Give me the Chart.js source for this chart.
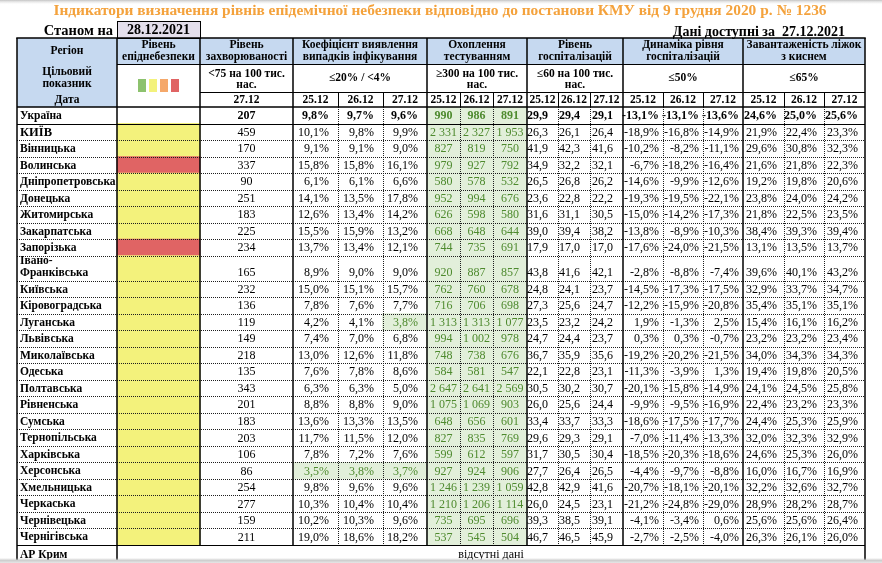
<!DOCTYPE html>
<html lang="uk">
<head>
<meta charset="utf-8">
<title>Індикатори епіднебезпеки 28.12.2021</title>
<script src="https://cdn.jsdelivr.net/npm/chart.js@4.4.1/dist/chart.umd.min.js"></script>
<style>
  html, body { margin: 0; padding: 0; background: #fff; }
  #wrap { position: relative; width: 882px; height: 563px; }
</style>
</head>
<body>
<div id="wrap"><canvas id="table"></canvas></div>
<script>
// ---- data ----
const titleText = 'Індикатори визначення рівнів епідемічної небезпеки відповідно до постанови КМУ від 9 грудня 2020 р. № 1236';
const asOfDate = '28.12.2021';
const dataDate = '27.12.2021';
const dates = ['25.12', '26.12', '27.12'];

const regions = ['Україна', 'КИЇВ', 'Вінницька', 'Волинська', 'Дніпропетровська', 'Донецька', 'Житомирська',
  'Закарпатська', 'Запорізька', 'Івано-Франківська', 'Київська', 'Кіровоградська', 'Луганська', 'Львівська',
  'Миколаївська', 'Одеська', 'Полтавська', 'Рівненська', 'Сумська', 'Тернопільська', 'Харківська', 'Херсонська',
  'Хмельницька', 'Черкаська', 'Чернівецька', 'Чернігівська'];
const noDataRegion = 'АР Крим';
const noDataText = 'відсутні дані';

// '' = no level shown
const epidLevel = ['', 'yellow', 'yellow', 'red', 'yellow', 'yellow', 'yellow', 'yellow', 'red', 'yellow', 'yellow',
  'yellow', 'yellow', 'yellow', 'yellow', 'yellow', 'yellow', 'yellow', 'yellow', 'yellow', 'yellow', 'yellow',
  'yellow', 'yellow', 'yellow', 'yellow'];

const incidence = [207, 459, 170, 337, 90, 251, 183, 225, 234, 165, 232, 136, 119, 149, 218, 135, 343, 201, 183, 203, 106, 86, 254, 277, 159, 211];

const detection25 = [9.8, 10.1, 9.1, 15.8, 6.1, 14.1, 12.6, 15.5, 13.7, 8.9, 15.0, 7.8, 4.2, 7.4, 13.0, 7.6, 6.3, 8.8, 13.6, 11.7, 7.8, 3.5, 9.8, 10.3, 10.2, 19.0];
const detection26 = [9.7, 9.8, 9.1, 15.8, 6.1, 13.5, 13.4, 15.9, 13.4, 9.0, 15.1, 7.6, 4.1, 7.0, 12.6, 7.8, 6.3, 8.8, 13.3, 11.5, 7.2, 3.8, 9.6, 10.4, 10.3, 18.6];
const detection27 = [9.6, 9.9, 9.0, 16.1, 6.6, 17.8, 14.2, 13.2, 12.1, 9.0, 15.7, 7.7, 3.8, 6.8, 11.8, 8.6, 5.0, 9.0, 13.5, 12.0, 7.6, 3.7, 9.6, 10.4, 9.6, 18.2];

const testing25 = [990, 2331, 827, 979, 580, 952, 626, 668, 744, 920, 762, 716, 1313, 994, 748, 584, 2647, 1075, 648, 827, 599, 927, 1246, 1210, 735, 537];
const testing26 = [986, 2327, 819, 927, 578, 994, 598, 648, 735, 887, 760, 706, 1313, 1002, 738, 581, 2641, 1069, 656, 835, 612, 924, 1239, 1206, 695, 545];
const testing27 = [891, 1953, 750, 792, 532, 676, 580, 644, 691, 857, 678, 698, 1077, 978, 676, 547, 2569, 903, 601, 769, 597, 906, 1059, 1114, 696, 504];

const hosp25 = [29.9, 26.3, 41.9, 34.9, 26.5, 23.6, 31.6, 39.0, 17.9, 43.8, 24.8, 27.3, 23.5, 24.7, 36.7, 22.1, 30.5, 26.0, 33.4, 29.6, 31.7, 27.7, 42.8, 26.0, 39.3, 46.7];
const hosp26 = [29.4, 26.1, 42.3, 32.2, 26.8, 22.8, 31.1, 39.4, 17.0, 41.6, 24.1, 25.6, 23.2, 24.4, 35.9, 22.8, 30.2, 25.6, 33.7, 29.3, 30.5, 26.4, 42.9, 24.5, 38.5, 46.5];
const hosp27 = [29.1, 26.4, 41.6, 32.1, 26.2, 22.2, 30.5, 38.2, 17.0, 42.1, 23.7, 24.7, 24.2, 23.7, 35.6, 23.1, 30.7, 24.4, 33.3, 29.1, 30.4, 26.5, 41.6, 23.1, 39.1, 45.9];

const dyn25 = [-13.1, -18.9, -10.2, -6.7, -14.6, -19.3, -15.0, -13.8, -17.6, -2.8, -14.5, -12.2, 1.9, 0.3, -19.2, -11.3, -20.1, -9.9, -18.6, -7.0, -18.5, -4.4, -20.7, -21.2, -4.1, -2.7];
const dyn26 = [-13.1, -16.8, -8.2, -18.2, -9.9, -19.5, -14.2, -8.9, -24.0, -8.8, -17.3, -15.9, -1.3, 0.3, -20.2, -3.9, -15.8, -9.5, -17.5, -11.4, -20.3, -9.7, -18.1, -24.8, -3.4, -2.5];
const dyn27 = [-13.6, -14.9, -11.1, -16.4, -12.6, -22.1, -17.3, -10.3, -21.5, -7.4, -17.5, -20.8, 2.5, -0.7, -21.5, 1.3, -14.9, -16.9, -17.7, -13.3, -18.6, -8.8, -20.1, -29.0, 0.6, -4.0];

const oxygen25 = [24.6, 21.9, 29.6, 21.6, 19.2, 23.8, 21.8, 38.4, 13.1, 39.6, 32.9, 35.4, 15.4, 23.2, 34.0, 19.4, 24.1, 22.4, 24.4, 32.0, 24.6, 16.0, 32.2, 28.9, 25.6, 26.3];
const oxygen26 = [25.0, 22.4, 30.8, 21.8, 19.8, 24.0, 22.5, 39.3, 13.5, 40.1, 33.7, 35.1, 16.1, 23.2, 34.3, 19.8, 24.5, 23.2, 25.3, 32.3, 25.3, 16.7, 32.6, 28.2, 25.6, 26.1];
const oxygen27 = [25.6, 23.3, 32.3, 22.3, 20.6, 24.2, 23.5, 39.4, 13.7, 43.2, 34.7, 35.1, 16.2, 23.4, 34.3, 20.5, 25.8, 23.3, 25.9, 32.9, 26.0, 16.9, 32.7, 28.7, 26.4, 26.0];

const headTitles = [['Рівень', 'епіднебезпеки'], ['Рівень', 'захворюваності'], ['Коефіцієнт виявлення', 'випадків інфікування'],
  ['Охоплення', 'тестуванням'], ['Рівень', 'госпіталізацій'], ['Динаміка рівня', 'госпіталізацій'], ['Завантаженість ліжок', 'з киснем']];
const headTargets = [['<75 на 100 тис.', 'нас.'], ['≤20% / <4%'], ['≥300 на 100 тис.', 'нас.'], ['≤60 на 100 тис.', 'нас.'], ['≤50%'], ['≤65%']];

// ---- layout (pixels of the 882x563 sheet) ----
const colX = [17, 117, 200, 293, 338, 383, 427, 460, 493, 527, 558, 590, 623, 663, 703, 743, 784, 824, 865];
const groupCols = [[1, 2], [2, 3], [3, 6], [6, 9], [9, 12], [12, 15], [15, 18]];
const headY = [38, 64, 92, 107];
const dateBoxY = [21, 38];
const rowH = 16.52, tallRowH = 25;

const C = {
  headBlue: '#C6D9F0', lavender: '#E4DFEC', greenFill: '#E2EFDA', greenText: '#4E8A2E',
  title: '#F4A23C', line: '#000', dotted: '#1e1e1e',
  level: { green: '#8DC26E', yellow: '#F3F27C', orange: '#F5A86A', red: '#E06464' }
};
const serif = '"Liberation Serif", "Times New Roman", serif';
const font = (w, s) => `${w} ${s}px ${serif}`;

const rowTops = [];
const rowHeights = [];
let acc = headY[3];
regions.forEach(r => {
  const h = r.includes('-') ? tallRowH : rowH;
  rowTops.push(acc); rowHeights.push(h); acc += h;
});
const bodyBottom = acc;

const fmtPct = v => v.toFixed(1).replace('.', ',') + '%';
const fmtDec = v => v.toFixed(1).replace('.', ',');
const fmtInt = v => v >= 1000 ? Math.floor(v / 1000) + '\u00a0' + String(v % 1000).padStart(3, '0') : String(v);

const indicators = [
  { first: 3, series: [detection25, detection26, detection27], fmt: fmtPct, pad: 9, good: v => v < 4 },
  { first: 6, series: [testing25, testing26, testing27], fmt: fmtInt, pad: null, good: v => v >= 300 },
  { first: 9, series: [hosp25, hosp26, hosp27], fmt: fmtDec, pad: 10, good: null },
  { first: 12, series: [dyn25, dyn26, dyn27], fmt: fmtPct, pad: 4, good: null },
  { first: 15, series: [oxygen25, oxygen26, oxygen27], fmt: fmtPct, pad: 7, good: null }
];

const colMid = c => (colX[c] + colX[c + 1]) / 2;

// cells with a fill become floating bars
function goodCells(ind) {
  const pts = [];
  ind.series.forEach((vals, k) => vals.forEach((v, i) => {
    if (ind.good(v)) pts.push({ x: colMid(ind.first + k), y: [rowTops[i], rowTops[i] + rowHeights[i]] });
  }));
  return pts;
}
const levelCells = [];
epidLevel.forEach((lv, i) => {
  if (lv) levelCells.push({ x: colMid(1), y: [rowTops[i], rowTops[i] + rowHeights[i]], level: lv });
});

const barBase = { type: 'bar', grouped: false, borderWidth: 0, inflateAmount: 0.4 };
const datasets = [
  Object.assign({}, barBase, { label: 'Рівень епіднебезпеки', data: levelCells,
    backgroundColor: c => C.level[c.raw.level], barThickness: colX[2] - colX[1] }),
  Object.assign({}, barBase, { label: 'Коефіцієнт виявлення', data: goodCells(indicators[0]),
    backgroundColor: C.greenFill, barThickness: colX[4] - colX[3] }),
  Object.assign({}, barBase, { label: 'Охоплення тестуванням', data: goodCells(indicators[1]),
    backgroundColor: C.greenFill, barThickness: 34 })
];

function line(ctx, x0, y0, x1, y1, w, dashed) {
  ctx.save();
  ctx.lineWidth = w;
  ctx.strokeStyle = dashed ? C.dotted : C.line;
  if (dashed) ctx.setLineDash([1, 1]);
  const off = w === 1 ? 0.5 : 0;
  ctx.beginPath();
  if (y0 === y1) { const yy = Math.round(y0) + off; ctx.moveTo(x0, yy); ctx.lineTo(x1, yy); }
  else { const xx = Math.round(x0) + off; ctx.moveTo(xx, y0); ctx.lineTo(xx, y1); }
  ctx.stroke();
  ctx.restore();
}

function text(ctx, s, x, y, align, f, color) {
  ctx.font = f; ctx.textAlign = align; ctx.textBaseline = 'middle';
  ctx.fillStyle = color || '#000';
  ctx.fillText(s, x, y);
}

const tablePlugin = {
  id: 'tableSheet',
  beforeDatasetsDraw(chart) {
    const { ctx, scales: { x, y } } = chart;
    const X = v => x.getPixelForValue(v), Y = v => y.getPixelForValue(v);
    ctx.save();
    const g = ctx.createLinearGradient(0, 0, 0, 5);
    g.addColorStop(0, '#c4c4c4'); g.addColorStop(1, 'rgba(255,255,255,0)');
    ctx.fillStyle = g; ctx.fillRect(0, 0, chart.width, 5);
    ctx.fillStyle = C.headBlue;
    ctx.fillRect(X(colX[0]), Y(headY[0]), X(colX[18]) - X(colX[0]), Y(headY[1]) - Y(headY[0]));
    ctx.fillRect(X(colX[0]), Y(headY[0]), X(colX[1]) - X(colX[0]), Y(headY[3]) - Y(headY[0]));
    ctx.fillStyle = C.lavender;
    ctx.fillRect(X(colX[1]), Y(dateBoxY[0]), X(colX[2]) - X(colX[1]), Y(dateBoxY[1]) - Y(dateBoxY[0]));
    ctx.restore();
  },
  afterDatasetsDraw(chart) {
    const { ctx, scales: { x, y } } = chart;
    const X = v => x.getPixelForValue(v), Y = v => y.getPixelForValue(v);
    const CX = c => X(colX[c]);
    ctx.save();

    // title, fitted to the sheet width
    ctx.font = font('bold', 17);
    const tw = ctx.measureText(titleText).width;
    const ts = 17 * (X(827) - X(53)) / tw;
    text(ctx, titleText, X(440), Y(11.5), 'center', font('bold', ts), C.title);
    text(ctx, 'Станом на', X(113), Y(31.5), 'right', font('bold', 14.5));
    text(ctx, asOfDate, X(158.5), Y(30.5), 'center', font('bold', 14));
    text(ctx, 'Дані доступні за  ' + dataDate, X(845), Y(32.5), 'right', font('bold', 14));
    ctx.strokeStyle = '#000'; ctx.lineWidth = 1;
    ctx.strokeRect(Math.round(CX(1)) + 0.5, Math.round(Y(dateBoxY[0])) + 0.5, CX(2) - CX(1), Y(dateBoxY[1]) - Y(dateBoxY[0]));

    // header texts
    const hf = font('bold', 11.5);
    text(ctx, 'Регіон', X(colMid(0)), Y(51.5), 'center', hf);
    text(ctx, 'Цільовий', X(colMid(0)), Y(72.5), 'center', hf);
    text(ctx, 'показник', X(colMid(0)), Y(84), 'center', hf);
    text(ctx, 'Дата', X(colMid(0)), Y(100), 'center', hf);
    groupCols.forEach(([a, b], gi) => {
      const cx = (CX(a) + CX(b)) / 2;
      text(ctx, headTitles[gi][0], cx, Y(45.5), 'center', hf);
      text(ctx, headTitles[gi][1], cx, Y(57.5), 'center', hf);
      if (gi > 0) {
        const t = headTargets[gi - 1];
        if (t.length === 2) {
          text(ctx, t[0], cx, Y(74), 'center', hf);
          text(ctx, t[1], cx, Y(85.5), 'center', hf);
        } else text(ctx, t[0], cx, Y(78), 'center', hf);
      }
    });
    text(ctx, dates[2], X(colMid(2)), Y(100), 'center', hf);
    for (let c = 3; c < 18; c++) text(ctx, dates[c % 3], X(colMid(c)), Y(100), 'center', hf);

    // level legend squares
    ['green', 'yellow', 'orange', 'red'].forEach((k, i) => {
      ctx.fillStyle = C.level[k];
      ctx.fillRect(X(138 + i * 11), Y(79), 8, Y(92) - Y(79));
    });

    // body texts
    regions.forEach((r, i) => {
      const yb = Y(rowTops[i] + rowHeights[i]) - 7.5;
      const bold = i === 0;
      const nf = font(bold ? 'bold' : 'normal', 12);
      const parts = r.includes('-') ? [r.split('-')[0] + '-', r.split('-')[1]] : [r];
      if (parts.length === 2) {
        text(ctx, parts[0], CX(0) + 3, yb - 12.5, 'left', font('bold', 11.5));
        text(ctx, parts[1], CX(0) + 3, yb, 'left', font('bold', 11.5));
      } else text(ctx, r, CX(0) + 3, yb, 'left', font('bold', i === 1 ? 12.5 : 11.5));
      text(ctx, String(incidence[i]), X(colMid(2)), yb, 'center', nf);
      indicators.forEach(ind => ind.series.forEach((vals, k) => {
        const c = ind.first + k;
        const v = vals[i];
        const green = ind.good && ind.good(v);
        const s = ind.fmt(v);
        if (ind.pad === null) text(ctx, s, X(colMid(c)), yb, 'center', nf, green ? C.greenText : '#000');
        else text(ctx, s, CX(c + 1) - ind.pad, yb, 'right', nf, green ? C.greenText : '#000');
      }));
    });
    const ky = Y(bodyBottom + 10);
    text(ctx, noDataRegion, CX(0) + 3, ky, 'left', font('bold', 11.5));
    text(ctx, noDataText, X(491), ky, 'center', font('normal', 12));

    // grid lines
    const L = CX(0), R = CX(18);
    for (let i = 2; i < regions.length; i++) line(ctx, L, Y(rowTops[i]), R, Y(rowTops[i]), 1, true);
    [4, 5, 7, 8, 10, 11, 13, 14, 16, 17].forEach(c => {
      line(ctx, CX(c), Y(headY[3]), CX(c), Y(bodyBottom), 1, true);
      line(ctx, CX(c), Y(headY[2]), CX(c), Y(headY[3]), 1, false);
    });
    line(ctx, CX(1), Y(headY[1]), R, Y(headY[1]), 1, false);
    line(ctx, CX(2), Y(headY[2]), R, Y(headY[2]), 1, false);
    line(ctx, L, Y(headY[3]), R, Y(headY[3]), 1.5, false);
    line(ctx, L, Y(rowTops[1]), R, Y(rowTops[1]), 1, false);
    line(ctx, L, Y(bodyBottom), R, Y(bodyBottom), 1, false);
    line(ctx, L - 0.75, Y(headY[0]), R + 0.75, Y(headY[0]), 1.5, false);
    [0, 1, 2, 3, 6, 9, 12, 15, 18].forEach(c => {
      const end = (c === 0 || c === 1 || c === 18) ? chart.height : bodyBottom;
      line(ctx, CX(c), Y(headY[0]), CX(c), Y(end), 1.5, false);
    });

    // page edge shadow at the bottom
    const g = ctx.createLinearGradient(0, chart.height - 5, 0, chart.height);
    g.addColorStop(0, 'rgba(200,200,200,0)'); g.addColorStop(0.5, '#cfcfcf'); g.addColorStop(1, '#e6e6e6');
    ctx.fillStyle = g; ctx.fillRect(0, chart.height - 5, chart.width, 5);
    ctx.restore();
  }
};

new Chart(document.getElementById('table'), {
  type: 'bar',
  data: { datasets },
  options: {
    responsive: true,
    maintainAspectRatio: false,
    animation: false,
    events: [],
    layout: { padding: 0 },
    plugins: { legend: { display: false }, tooltip: { enabled: false } },
    scales: {
      x: { type: 'linear', min: 0, max: 882, display: false, offset: false },
      y: { type: 'linear', min: 0, max: 563, reverse: true, display: false }
    }
  },
  plugins: [tablePlugin]
});
</script>
</body>
</html>
